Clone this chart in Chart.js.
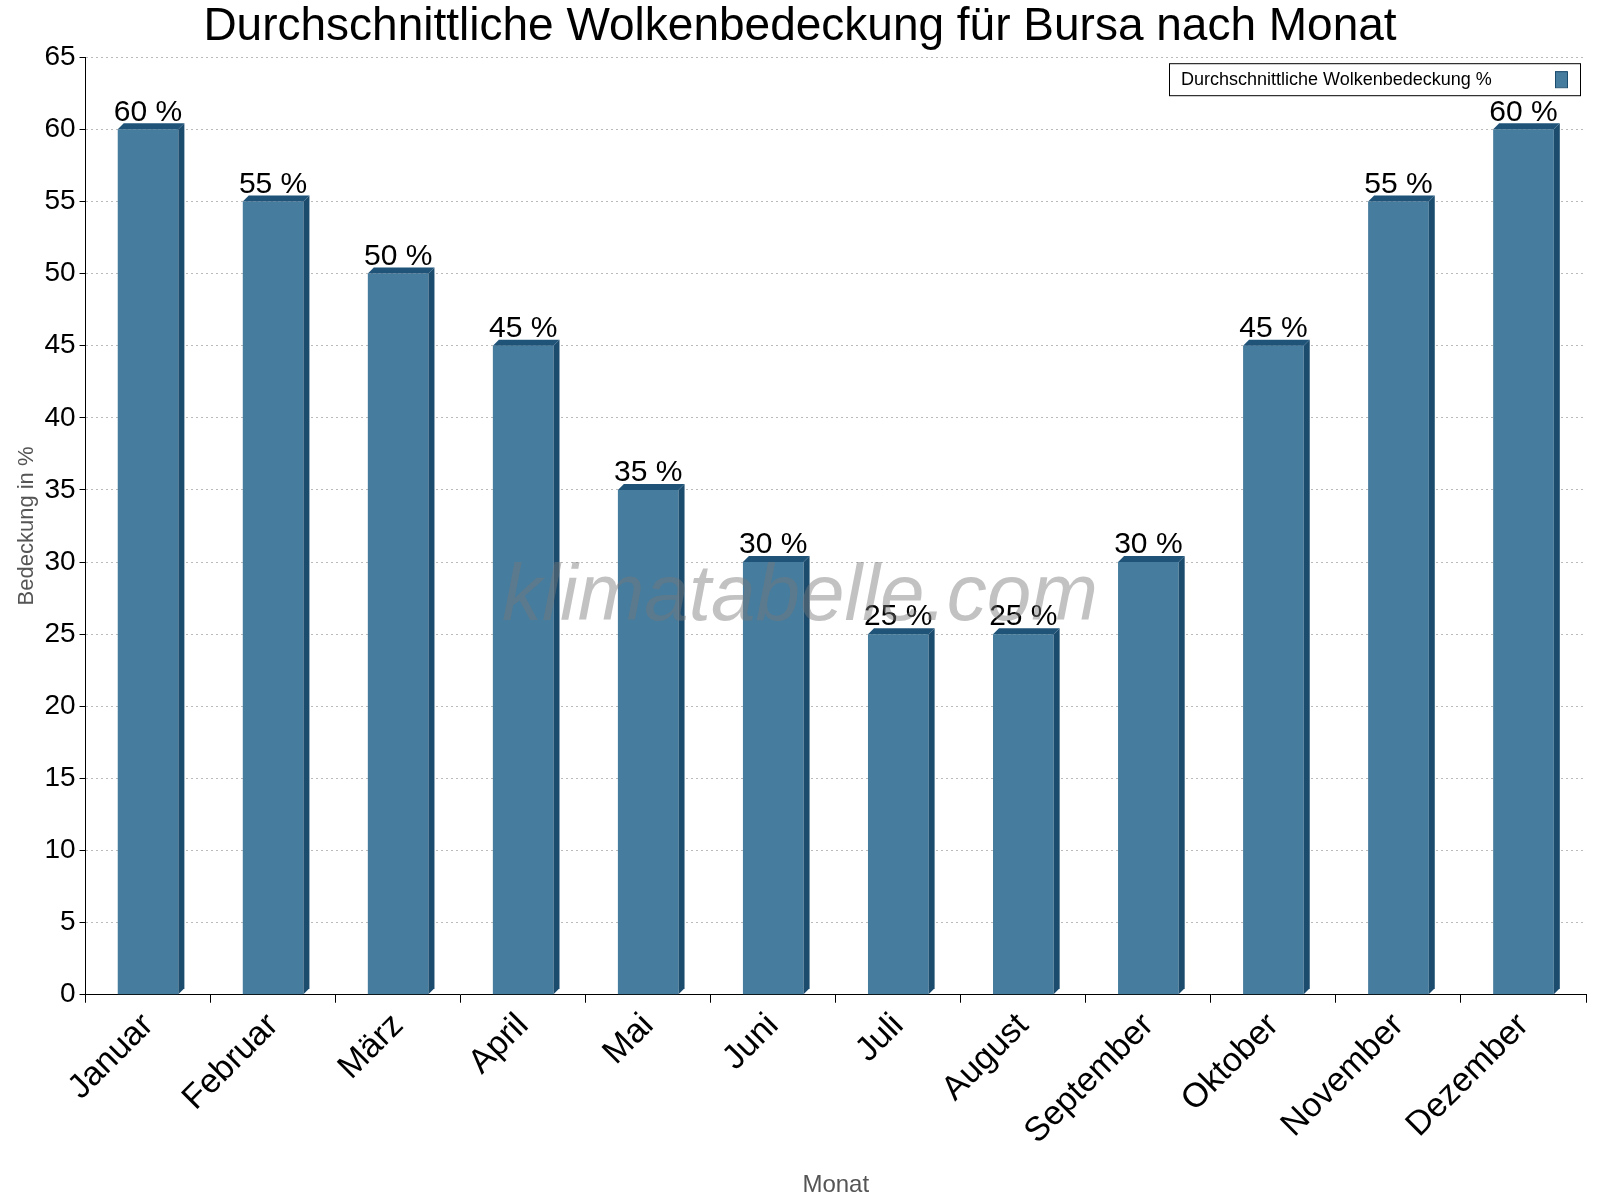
<!DOCTYPE html>
<html><head><meta charset="utf-8">
<script src="https://cdn.jsdelivr.net/npm/chart.js@4"></script>
<style>body{margin:0;background:#fff}#wrap{width:1600px;height:1200px}</style>
</head><body><div id="wrap"><canvas id="c"></canvas></div>
<script>
const months = ['Januar','Februar','März','April','Mai','Juni','Juli','August','September','Oktober','November','Dezember'];
const cover = [60,55,50,45,35,30,25,25,30,45,55,60];
const yTicks = [0,5,10,15,20,25,30,35,40,45,50,55,60,65];

const bar3d = {
  id: 'bar3d',
  afterDatasetsDraw(chart) {
    const ctx = chart.ctx, d = 6;
    chart.getDatasetMeta(0).data.forEach((b, i) => {
      const l = b.x - b.width / 2, r = b.x + b.width / 2;
      ctx.save();
      ctx.fillStyle = '#1b4b6d';
      ctx.beginPath();
      ctx.moveTo(r, b.y); ctx.lineTo(r + d, b.y - d); ctx.lineTo(r + d, b.base - d); ctx.lineTo(r, b.base);
      ctx.closePath(); ctx.fill();
      ctx.fillStyle = '#1f5378';
      ctx.beginPath();
      ctx.moveTo(l, b.y); ctx.lineTo(l + d, b.y - d); ctx.lineTo(r + d, b.y - d); ctx.lineTo(r, b.y);
      ctx.closePath(); ctx.fill();
      ctx.fillStyle = '#000';
      ctx.font = '30px "Liberation Sans", Arial';
      ctx.textAlign = 'center'; ctx.textBaseline = 'bottom';
      ctx.fillText(cover[i] + ' %', b.x, b.y - 2);
      ctx.restore();
    });
  },
  afterDraw(chart) {
    const ctx = chart.ctx, a = chart.chartArea;
    ctx.save();
    ctx.font = 'italic 80px "Liberation Sans", Arial';
    ctx.fillStyle = 'rgba(120,120,120,0.45)';
    ctx.textAlign = 'center'; ctx.textBaseline = 'middle';
    ctx.fillText('klimatabelle.com', 800, 598);
    const lw = 411, lh = 32, lx = a.right - lw - 6, ly = a.top + 6;
    ctx.fillStyle = '#fff'; ctx.fillRect(lx, ly, lw, lh);
    ctx.strokeStyle = '#000'; ctx.lineWidth = 1; ctx.strokeRect(lx + 0.5, ly + 0.5, lw, lh);
    ctx.fillStyle = '#000'; ctx.font = '18px "Liberation Sans", Arial';
    ctx.textAlign = 'left';
    ctx.fillText('Durchschnittliche Wolkenbedeckung %', lx + 12, ly + lh / 2 + 1);
    ctx.fillStyle = '#467c9e'; ctx.fillRect(lx + 386, ly + 8, 12, 16);
    ctx.strokeStyle = '#1b4b6d'; ctx.strokeRect(lx + 386.5, ly + 8.5, 12, 16);
    ctx.restore();
  }
};

new Chart(document.getElementById('c'), {
  type: 'bar',
  data: { labels: months, datasets: [{ label: 'Durchschnittliche Wolkenbedeckung %', data: cover,
    backgroundColor: '#467c9e', categoryPercentage: 0.97, barPercentage: 0.5 }] },
  options: {
    responsive: true, maintainAspectRatio: false, animation: false,
    layout: { padding: { right: 14, left: 14, top: 0, bottom: 0 } },
    plugins: {
      legend: { display: false },
      tooltip: { enabled: false },
      title: { display: true, text: 'Durchschnittliche Wolkenbedeckung für Bursa nach Monat',
        color: '#000', font: { size: 46, family: '"Liberation Sans", Arial', weight: 'normal' }, padding: { top: 0, bottom: 2 } }
    },
    scales: {
      x: {
        grid: { display: true, drawOnChartArea: false, offset: true, tickLength: 8, color: '#000' },
        border: { color: '#000' },
        ticks: { color: '#000', maxRotation: 45, minRotation: 45, font: { size: 34, family: '"Liberation Sans", Arial' } },
        title: { display: true, text: 'Monat', color: '#555', font: { size: 24, family: '"Liberation Sans", Arial' }, padding: { top: 16, bottom: 0 } }
      },
      y: {
        min: 0, max: 65,
        afterBuildTicks(s) { s.ticks = yTicks.map(v => ({ value: v })); },
        grid: { color: '#bbb', tickLength: 6, tickColor: '#000' },
        border: { color: '#000', dash: [2, 3] },
        ticks: { color: '#000', font: { size: 28, family: '"Liberation Sans", Arial' }, padding: 4 },
        title: { display: true, text: 'Bedeckung in %', color: '#555', font: { size: 22, family: '"Liberation Sans", Arial' }, padding: 0 }
      }
    }
  },
  plugins: [bar3d]
});
</script></body></html>
